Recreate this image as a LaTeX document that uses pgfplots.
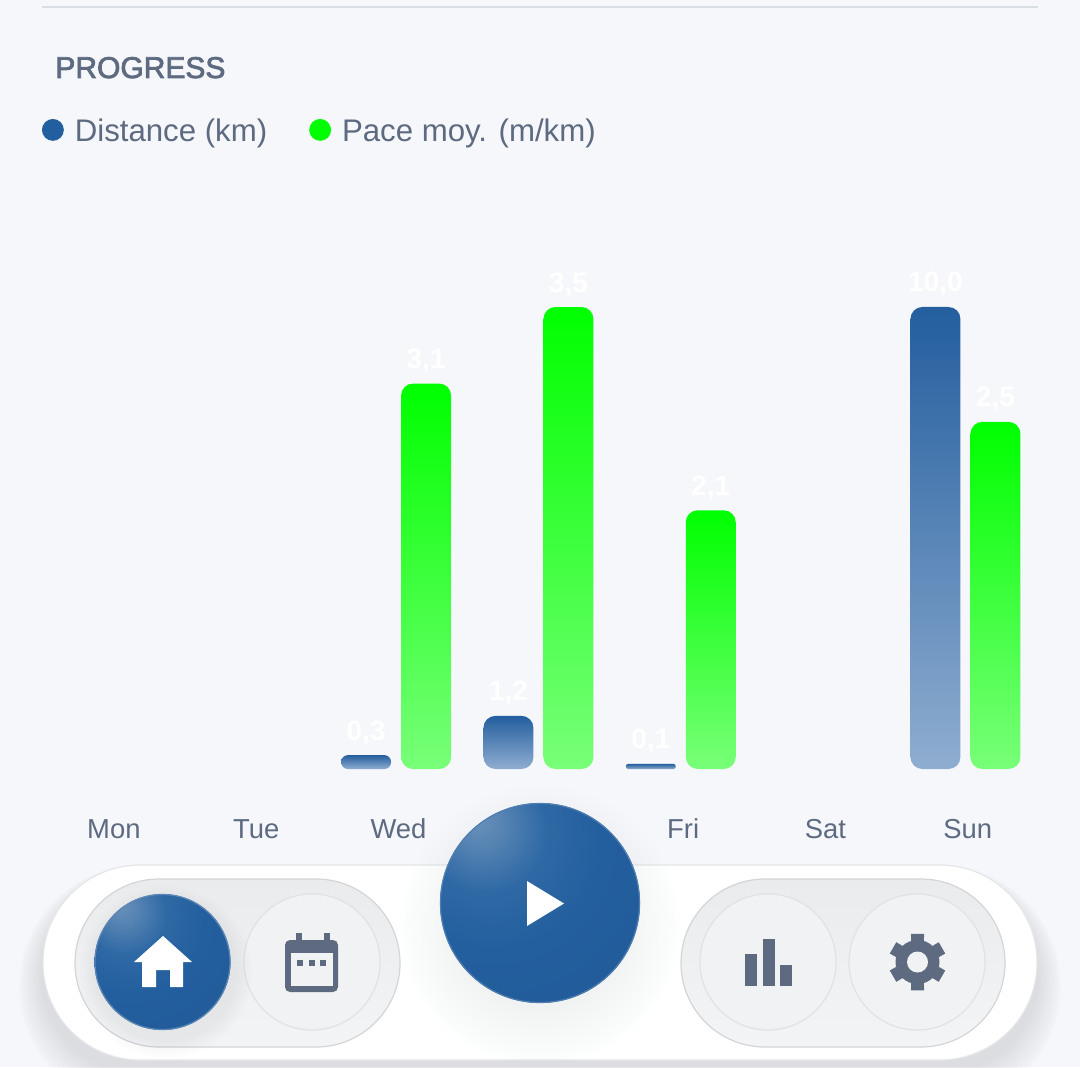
\documentclass[border=0pt]{standalone}
\usepackage{fontspec}
\setmainfont{Liberation Sans}
\newfontfamily\medfont[FakeBold=2.5]{Liberation Sans}
\usepackage{pgfplots}
\usetikzlibrary{calc}
\pgfplotsset{compat=1.18}
\definecolor{bg}{HTML}{F5F7FB}
\definecolor{txt}{HTML}{5D6A80}
\definecolor{bluetop}{HTML}{235E9E}
\definecolor{bluebot}{HTML}{8FADD0}
\definecolor{greentop}{HTML}{00FF00}
\definecolor{greenbot}{HTML}{78FF78}
\definecolor{rule}{HTML}{D9DDE4}
\definecolor{pilltop}{HTML}{EAEBED}
\definecolor{pillbot}{HTML}{F3F4F5}
\definecolor{pillb}{HTML}{D3D5D8}
\definecolor{btn}{HTML}{F1F2F4}
\definecolor{btnb}{HTML}{E1E2E5}
\definecolor{ballA}{HTML}{6A90BB}
\definecolor{ballB}{HTML}{5583B2}
\definecolor{ballC}{HTML}{2F69A5}
\definecolor{ballD}{HTML}{235E9E}
\definecolor{ballE}{HTML}{215A98}
\definecolor{ballF}{HTML}{1E548E}
\definecolor{ballG}{HTML}{1A4C80}
\pgfdeclareradialshading{ballblue}{\pgfpoint{-16bp}{21bp}}{%
 color(0bp)=(ballA);
 color(6bp)=(ballB);
 color(15bp)=(ballC);
 color(27bp)=(ballD);
 color(50bp)=(ballE);
 color(72bp)=(ballF);
 color(100bp)=(ballG)}
\pgfplotsset{
  chartbase/.style={
    at={(0pt,149pt)}, anchor=south west, scale only axis,
    width=540pt, height=231pt,
    xmin=-0.783, xmax=6.805, ymin=0, clip=false,
    ytick=\empty,
    axis line style={draw=none},
    major tick length=0pt,
    point meta=explicit symbolic,
    nodes near coords,
    nodes near coords style={text=white, font=\bfseries\fontsize{14pt}{16pt}\selectfont, anchor=base, yshift=7.5pt, inner sep=0pt},
  },
  bluebar/.style={ybar, bar width=25pt, bar shift=-15pt, draw=none,
    top color=bluetop, bottom color=bluebot, rounded corners=#1},
  greenbar/.style={ybar, bar width=25pt, bar shift=15pt, draw=none,
    top color=greentop, bottom color=greenbot, rounded corners=6pt},
}
\begin{document}
\begin{tikzpicture}
\path[use as bounding box, fill=bg] (0pt,0pt) rectangle (540pt,533.5pt);
% header rule and title
\begin{scope}[x=0.5pt,y=-0.5pt,shift={(0pt,533.5pt)}]
\draw[rule, line width=1pt] (42,7) -- (1038,7);
\node[anchor=base west, inner sep=0pt, text=txt, font=\medfont\fontsize{15pt}{18pt}\selectfont] at (55,78) {PROGRESS};
\end{scope}
% distance
\begin{axis}[chartbase, ymax=10,
  every node near coord/.append style={xshift=-15pt},
  xtick={0,1,2,3,4,5,6},
  xticklabels={Mon,Tue,Wed,Thu,Fri,Sat,Sun},
  xticklabel style={text=txt, font=\fontsize{13.7pt}{16pt}\selectfont, xshift=1.2pt, yshift=-34.5pt, anchor=base},
  legend style={at={(0.0389,1.379)}, anchor=west, draw=none, fill=none, legend columns=2,
    font=\fontsize{15.6pt}{19pt}\selectfont, text=txt, inner sep=0pt, outer sep=0pt,
    /tikz/every even column/.append style={column sep=19pt}},
  legend cell align=left]
\addplot[forget plot, bluebar=3.4pt] coordinates {(2,0.3) [0,3]};
\addplot[forget plot, bluebar=6pt] coordinates {(3,1.15) [1,2]};
\addplot[forget plot, bluebar=1.2pt] coordinates {(4,0.11) [0,1]};
\addplot[forget plot, bluebar=6pt] coordinates {(6,10) [10,0]};
\addlegendimage{legend image code/.code={\fill[bluetop] (0pt,1pt) circle (5.25pt); \path (8.75pt,0pt);}}
\addlegendentry{Distance (km)}
\addlegendimage{legend image code/.code={\fill[greentop] (0pt,1pt) circle (5.25pt); \path (8.75pt,0pt);}}
\addlegendentry{Pace moy. (m/km)}
\end{axis}
% pace
\begin{axis}[chartbase, ymax=3.5, xtick=\empty,
  every node near coord/.append style={xshift=15pt}]
\addplot[greenbar] coordinates {(2,2.92) [3,1]};
\addplot[greenbar] coordinates {(3,3.5) [3,5]};
\addplot[greenbar] coordinates {(4,1.96) [2,1]};
\addplot[greenbar] coordinates {(6,2.63) [2,5]};
\end{axis}
% navigation bar
\begin{scope}[x=0.5pt,y=-0.5pt,shift={(0pt,533.5pt)}]
\foreach \i in {1,...,12}{
  \pgfmathsetmacro{\e}{2*\i}
  \pgfmathsetmacro{\d}{12+\i}
  \pgfmathsetmacro{\r}{(97.5+\e)/2}
  \fill[black!55!white, opacity=0.015, rounded corners=\r pt]
    ({43-\e},{865+\d-\e}) rectangle ({1037+\e},{1060+\d+\e});
}
\fill[white, draw=pillb!60!white, line width=0.6pt, rounded corners=48.5pt] (43,865) rectangle (1037,1060);
% shadow of the play button
\foreach \i in {1,...,12}{
  \fill[bluetop!40!white, opacity=0.012] (540,925) circle ({80+\i*5});
}
% inner pills
\shade[top color=pilltop, bottom color=pillbot, rounded corners=42pt] (75,879) rectangle (400,1047);
\draw[pillb, line width=0.6pt, rounded corners=42pt] (75,879) rectangle (400,1047);
\shade[top color=pilltop, bottom color=pillbot, rounded corners=42pt] (681,879) rectangle (1005,1047);
\draw[pillb, line width=0.6pt, rounded corners=42pt] (681,879) rectangle (1005,1047);
% buttons
\foreach \c in {312,768,917}{
  \fill[btn, draw=btnb, line width=0.6pt] (\c,962) circle (68);
}
\foreach \i in {1,...,6}{
  \fill[bluetop!40!gray, opacity=0.012] (166,972) circle ({68+\i*3});
}
\shade[shading=ballblue, draw=none] (162.5,962) circle (68);
\draw[bluetop!75!white, line width=0.6pt] (162.5,962) circle (67.5);
\shade[shading=ballblue, draw=none] (540,903) circle (100);
\draw[bluetop!80!white, line width=0.6pt] (540,903) circle (99.5);
% play icon
\fill[white] (527,881) -- (564,903.5) -- (527,926) -- cycle;
% home icon
\fill[white] (163,936) -- (192,962) -- (183,962) -- (183,987) -- (170,987) -- (170,970) -- (156,970) -- (156,987) -- (142,987) -- (142,962) -- (134,962) -- cycle;
% calendar icon
\fill[txt] (296,933) rectangle (302,942);
\fill[txt] (324,933) rectangle (330,942);
\fill[txt, rounded corners=2.5pt] (285,940) rectangle (338,992);
\fill[btn] (291,953) rectangle (333,986);
\fill[txt] (297,960) rectangle (303,966);
\fill[txt] (309,960) rectangle (315,966);
\fill[txt] (320,960) rectangle (326,966);
% chart icon
\fill[txt] (744.5,954) rectangle (757,986);
\fill[txt] (763,939) rectangle (775,986);
\fill[txt] (780,965) rectangle (792,986);
% gear icon
\fill[txt] (917.5,962) circle (22);
\foreach \a in {30,90,150,210,270,330}{
  \fill[txt] ($(917.5,962)+({\a+17}:22)$) -- ($(917.5,962)+({\a+13}:29)$) -- ($(917.5,962)+({\a-13}:29)$) -- ($(917.5,962)+({\a-17}:22)$) -- cycle;
}
\fill[btn] (917.5,962) circle (10.5);
\end{scope}
\end{tikzpicture}
\end{document}
